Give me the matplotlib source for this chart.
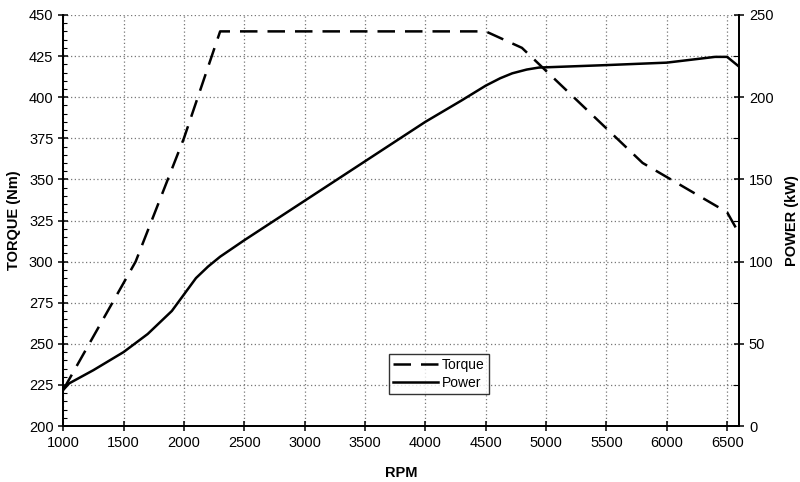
import matplotlib.pyplot as plt
from matplotlib.ticker import MultipleLocator

plt.rcParams['font.family'] = ['Liberation Sans', 'DejaVu Sans']

# torque curve (left axis)
torque_rpm = [1000, 1600, 2000, 2300, 4500, 4800, 5800, 6500, 6600]
torque_nm = [222, 300, 375, 440, 440, 430, 360, 330, 317]

# power curve (right axis)
power_rpm = [1000, 1050, 1250, 1500, 1700, 1900, 2000, 2100, 2200, 2300, 2500, 3000, 3500,
             4000, 4300, 4500, 4620, 4720, 4840, 4940, 5500, 6000, 6400, 6500, 6600]
power_kw = [22, 26, 34, 45, 56, 70, 80, 90, 97, 103, 113, 137, 161,
            185, 198, 207, 211.5, 214.5, 216.8, 218, 219.5, 221, 224.5, 224.5, 218.5]

fig = plt.figure(figsize=(8, 4.82), dpi=100)
ax = fig.add_axes([0.079, 0.116, 0.845, 0.853])
ax2 = ax.twinx()

lt, = ax.plot(torque_rpm, torque_nm, color='black', lw=1.8, dashes=(7, 4), label='Torque')
lp, = ax2.plot(power_rpm, power_kw, color='black', lw=1.8, label='Power')

ax.set_xlim(1000, 6600)
ax.set_ylim(200, 450)
ax2.set_ylim(0, 250)

ax.xaxis.set_major_locator(MultipleLocator(500))
ax.yaxis.set_major_locator(MultipleLocator(25))
ax.yaxis.set_minor_locator(MultipleLocator(5))
ax2.yaxis.set_major_locator(MultipleLocator(50))
ax2.yaxis.set_minor_locator(MultipleLocator(25))

ax.grid(True, which='major', color='#777777', linestyle=(0, (1, 2)), lw=0.9)
ax.set_axisbelow(True)

for a in (ax, ax2):
    a.spines['top'].set_visible(False)
    for s in ('left', 'bottom', 'right'):
        a.spines[s].set_linewidth(1.3)
ax.tick_params(axis='both', which='major', direction='inout', length=7, width=1.1, labelsize=10.5)
ax.tick_params(axis='y', which='minor', direction='in', length=3, width=0.8)
ax2.tick_params(axis='y', which='major', direction='inout', length=7, width=1.1, labelsize=10.5)
ax2.tick_params(axis='y', which='minor', direction='in', length=4, width=0.8)

ax.set_xlabel('RPM', fontsize=10.5, fontweight='bold', labelpad=12)
ax.set_ylabel('TORQUE (Nm)', fontsize=10.5, fontweight='bold', labelpad=6)
ax2.set_ylabel('POWER (kW)', fontsize=10.5, fontweight='bold', labelpad=8)

leg = ax.legend(handles=[lt, lp], loc='upper left', bbox_to_anchor=(0.472, 0.193),
                fontsize=10, frameon=True, fancybox=False, edgecolor='black',
                handlelength=3.2, borderpad=0.3, labelspacing=0.3, handletextpad=0.3)
leg.get_frame().set_linewidth(1.0)
leg.set_zorder(10)

fig.savefig('out.png', dpi=100)
